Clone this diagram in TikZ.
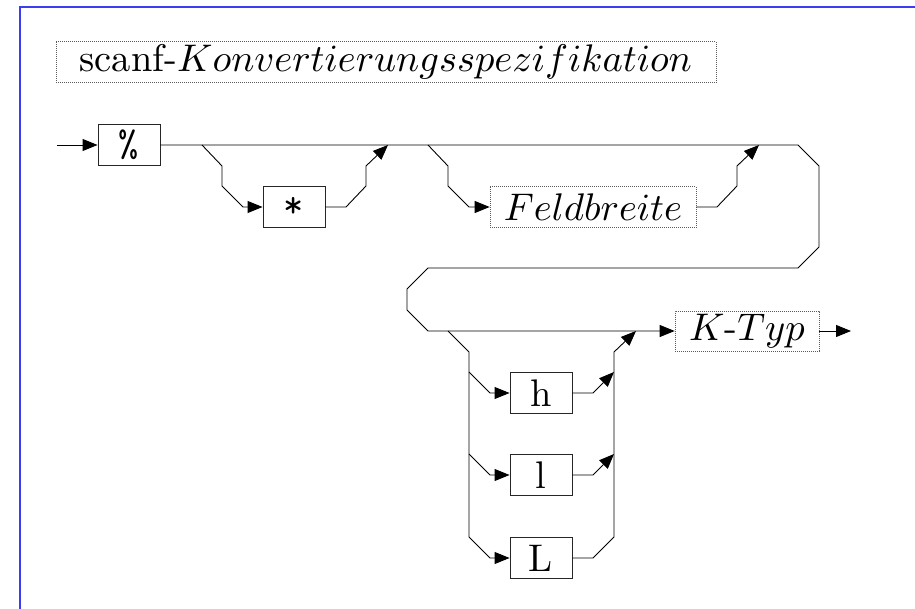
\documentclass[tikz,border=0pt]{standalone}
\usetikzlibrary{arrows.meta}
\definecolor{frameblue}{RGB}{60,60,240}
% labels are set at 10pt and enlarged, keeping the 10pt design of the fonts
\newcommand{\lbl}[1]{\scalebox{3.85}{#1}}
\begin{document}
\begin{tikzpicture}[x=1pt,y=-1pt,
  every node/.style={inner sep=0pt, anchor=center},
  term/.style={draw=black!85, line width=0.9pt, minimum width=62pt, minimum height=41pt},
  nonterm/.style={draw=black!65, line width=0.7pt, dash pattern=on 0.7pt off 1.3pt, minimum height=41pt},
  rail/.style={line width=0.9pt, draw=black},
  tip/.style={-{Triangle[length=15pt,width=12pt]}},
]
\useasboundingbox (0,0) rectangle (915,609);

% page frame
\draw[line width=1.5pt, frameblue] (20,609) -- (20,7) -- (915,7);

% title
\node[nonterm, minimum width=660pt] (title) at (386,62) {\lbl{scanf-$Konvertierungsspezifikation$}};

% boxes
\node[term] (pct) at (129,145) {\lbl{\ttfamily\%}};
\node[term] (star) at (294,207) {\lbl{\ttfamily *}};
\node[nonterm, minimum width=206pt] (feld) at (593,207) {\lbl{$Feldbreite$}};
\node[nonterm, minimum width=144pt, minimum height=40pt] (ktyp) at (747,331) {\lbl{$K$-$Typ$}};
\node[term] (h) at (541,393) {\lbl{h}};
\node[term] (l) at (541,475) {\lbl{l}};
\node[term] (L) at (541,558) {\lbl{L}};

\coordinate (start) at (57,145);
\coordinate (end) at (851,331);

% entry
\draw[rail, tip] (start) -- (pct.west);

% main rail with the turn back to the second row
\draw[rail, tip] (pct.east) -- (798,145) -- (819,166) -- (819,247) -- (798,268)
  -- (428,268) -- (407,289) -- (407,310) -- (428,331) -- (ktyp.west);

% optional *
\draw[rail, tip] (202,145) -- (222,166) -- (222,186) -- (243,207) -- (star.west);
\draw[rail, tip] (star.east) -- (346,207) -- (366,186) -- (366,166) -- (388,145);

% optional field width
\draw[rail, tip] (428,145) -- (448,166) -- (448,186) -- (469,207) -- (feld.west);
\draw[rail, tip] (feld.east) -- (717,207) -- (737,186) -- (737,166) -- (759,145);

% length modifiers h, l, L
\draw[rail] (448,331) -- (469,352) -- (469,537);
\draw[rail, tip] (469,537) -- (490,558) -- (L.west);
\draw[rail, tip] (469,372) -- (490,393) -- (h.west);
\draw[rail, tip] (469,454) -- (490,475) -- (l.west);
\draw[rail, tip] (h.east) -- (593,393) -- (614,372);
\draw[rail, tip] (l.east) -- (593,475) -- (614,454);
\draw[rail, tip] (L.east) -- (593,558) -- (614,537) -- (614,352) -- (636,331);

% exit
\draw[rail, tip] (ktyp.east) -- (end);
\end{tikzpicture}
\end{document}
